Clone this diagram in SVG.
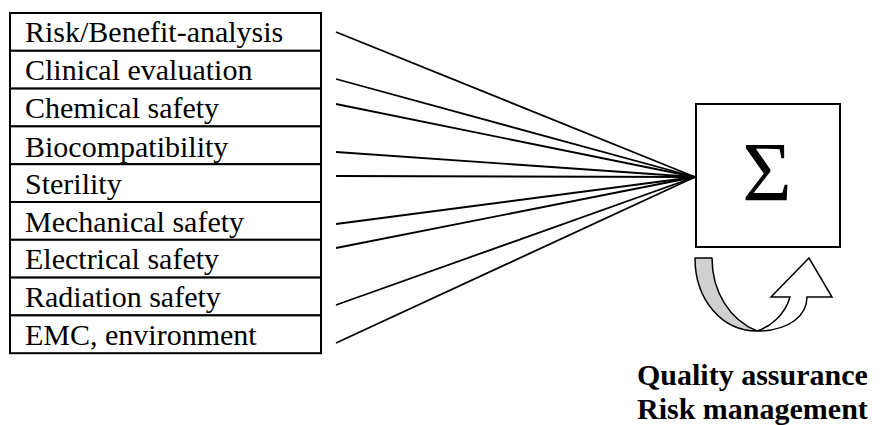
<svg xmlns="http://www.w3.org/2000/svg" width="885" height="425" viewBox="0 0 885 425">
<style>
.cell{fill:#fff;stroke:#000;stroke-width:2}
.lbl{font-family:"Liberation Serif","Times New Roman",serif;font-size:30px;fill:#000}
.conn line{stroke:#000;stroke-width:1.8}
.bold{font-family:"Liberation Serif","Times New Roman",serif;font-size:30px;font-weight:bold;fill:#000}
</style>
<rect width="885" height="425" fill="#fff"/>
<g id="n1"><rect class="cell" x="10" y="13" width="311" height="37.8"/><text class="lbl" x="25" y="42">Risk/Benefit-analysis</text></g>
<g id="n2"><rect class="cell" x="10" y="50.8" width="311" height="37.8"/><text class="lbl" x="25" y="80">Clinical evaluation</text></g>
<g id="n3"><rect class="cell" x="10" y="88.6" width="311" height="37.8"/><text class="lbl" x="25" y="118">Chemical safety</text></g>
<g id="n4"><rect class="cell" x="10" y="126.4" width="311" height="37.8"/><text class="lbl" x="25" y="156.5">Biocompatibility</text></g>
<g id="n5"><rect class="cell" x="10" y="164.2" width="311" height="37.8"/><text class="lbl" x="25" y="194">Sterility</text></g>
<g id="n6"><rect class="cell" x="10" y="202" width="311" height="37.8"/><text class="lbl" x="25" y="231.5">Mechanical safety</text></g>
<g id="n7"><rect class="cell" x="10" y="239.8" width="311" height="37.8"/><text class="lbl" x="25" y="269">Electrical safety</text></g>
<g id="n8"><rect class="cell" x="10" y="277.6" width="311" height="37.8"/><text class="lbl" x="25" y="307">Radiation safety</text></g>
<g id="n9"><rect class="cell" x="10" y="315.4" width="311" height="37.8"/><text class="lbl" x="25" y="345">EMC, environment</text></g>
<g id="sum"><rect class="cell" x="696" y="104" width="144" height="143"/><text x="767" y="201" text-anchor="middle" font-family="Liberation Serif, Times New Roman, serif" font-size="85">Σ</text></g>
<g id="cycle">
<path d="M695,258 L712,258 C712,292 730,320 757,331 C722,331 695,300 695,258 Z" fill="#d0d0d0" stroke="#000" stroke-width="1.5" stroke-linejoin="round"/>
<path d="M757,331 C790,331 807,315 807,297 L832,297 L809,258 L771,297 L790,297 C785,315 770,327 757,331 Z" fill="#fff" stroke="#000" stroke-width="1.5" stroke-linejoin="miter"/>
</g>
<g id="caption">
<text class="bold" x="637" y="385">Quality assurance</text>
<text class="bold" x="637" y="418.5">Risk management</text>
</g>
<g id="connectors" class="conn">
<line x1="336" y1="32" x2="695" y2="177"/>
<line x1="336" y1="79" x2="695" y2="177"/>
<line x1="336" y1="104" x2="695" y2="177"/>
<line x1="336" y1="152" x2="695" y2="177"/>
<line x1="336" y1="176" x2="695" y2="177"/>
<line x1="336" y1="224" x2="695" y2="177"/>
<line x1="336" y1="248" x2="695" y2="177"/>
<line x1="336" y1="305" x2="695" y2="177"/>
<line x1="336" y1="343" x2="695" y2="177"/>
</g>
</svg>
